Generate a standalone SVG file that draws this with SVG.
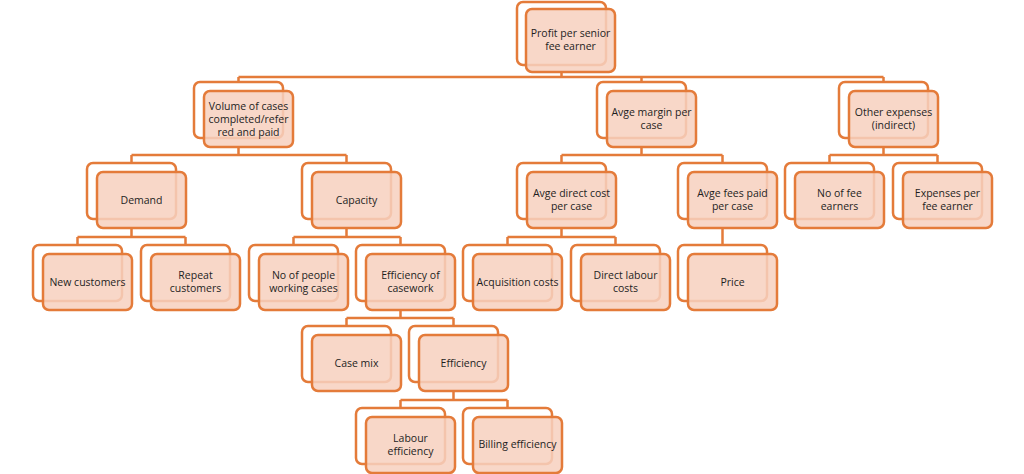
<svg xmlns="http://www.w3.org/2000/svg" width="1024" height="474" viewBox="0 0 1024 474">
<style>
.bk{fill:#ffffff;stroke:#E47B3A;stroke-width:2.5}
.fr{fill:#F7D0BF;fill-opacity:0.86;stroke:#E47B3A;stroke-width:2.5}
.cn{fill:none;stroke:#E47B3A;stroke-width:2.5}
text{font-family:"Open Sans","Liberation Sans",sans-serif;font-size:10.5px;fill:#1e1e1e;text-anchor:middle}
</style>
<rect width="1024" height="474" fill="#ffffff"/>
<g id="connectors">
<path class="cn" d="M561.5,72 V77 M238.5,77 H883.5 M238.5,77 V82 M641.5,77 V82 M883.5,77 V82"/>
<path class="cn" d="M238.5,147 V155 M131.5,155 H346.5 M131.5,155 V163 M346.5,155 V163"/>
<path class="cn" d="M641.5,147 V155 M561.5,155 H722.5 M561.5,155 V163 M722.5,155 V163"/>
<path class="cn" d="M883.5,147 V155 M829.5,155 H937.5 M829.5,155 V163 M937.5,155 V163"/>
<path class="cn" d="M131.5,228 V237 M77.5,237 H185.5 M77.5,237 V245 M185.5,237 V245"/>
<path class="cn" d="M346.5,228 V237 M293.5,237 H400.5 M293.5,237 V245 M400.5,237 V245"/>
<path class="cn" d="M561.5,228 V237 M507.5,237 H615.5 M507.5,237 V245 M615.5,237 V245"/>
<path class="cn" d="M722.5,228 V245"/>
<path class="cn" d="M400.5,310 V318 M346.5,318 H453.5 M346.5,318 V326 M453.5,318 V326"/>
<path class="cn" d="M453.5,391 V400 M400.5,400 H507.5 M400.5,400 V408 M507.5,400 V408"/>
</g>
<g id="n0"><rect class="bk" x="517" y="2" width="89" height="63" rx="6"/><rect class="fr" x="526" y="9" width="89" height="63" rx="6"/><text x="570.5" y="37">Profit per senior</text><text x="570.5" y="50">fee earner</text></g>
<g id="n1"><rect class="bk" x="194" y="82" width="89" height="56" rx="6"/><rect class="fr" x="204" y="91" width="89" height="56" rx="6"/><text x="248.5" y="110">Volume of cases</text><text x="248.5" y="123">completed/refer</text><text x="248.5" y="136">red and paid</text></g>
<g id="n2"><rect class="bk" x="597" y="82" width="89" height="56" rx="6"/><rect class="fr" x="607" y="91" width="89" height="56" rx="6"/><text x="651.5" y="116">Avge margin per</text><text x="651.5" y="129">case</text></g>
<g id="n3"><rect class="bk" x="839" y="82" width="89" height="56" rx="6"/><rect class="fr" x="849" y="91" width="89" height="56" rx="6"/><text x="893.5" y="116">Other expenses</text><text x="893.5" y="129">(indirect)</text></g>
<g id="n4"><rect class="bk" x="87" y="163" width="89" height="56" rx="6"/><rect class="fr" x="97" y="172" width="89" height="56" rx="6"/><text x="141.5" y="204">Demand</text></g>
<g id="n5"><rect class="bk" x="302" y="163" width="89" height="56" rx="6"/><rect class="fr" x="312" y="172" width="89" height="56" rx="6"/><text x="356.5" y="204">Capacity</text></g>
<g id="n6"><rect class="bk" x="517" y="163" width="89" height="56" rx="6"/><rect class="fr" x="527" y="172" width="89" height="56" rx="6"/><text x="571.5" y="197">Avge direct cost</text><text x="571.5" y="210">per case</text></g>
<g id="n7"><rect class="bk" x="678" y="163" width="89" height="56" rx="6"/><rect class="fr" x="688" y="172" width="89" height="56" rx="6"/><text x="732.5" y="197">Avge fees paid</text><text x="732.5" y="210">per case</text></g>
<g id="n8"><rect class="bk" x="785" y="163" width="89" height="56" rx="6"/><rect class="fr" x="795" y="172" width="89" height="56" rx="6"/><text x="839.5" y="197">No of fee</text><text x="839.5" y="210">earners</text></g>
<g id="n9"><rect class="bk" x="893" y="163" width="89" height="56" rx="6"/><rect class="fr" x="903" y="172" width="89" height="56" rx="6"/><text x="947.5" y="197">Expenses per</text><text x="947.5" y="210">fee earner</text></g>
<g id="n10"><rect class="bk" x="33" y="245" width="89" height="56" rx="6"/><rect class="fr" x="43" y="254" width="89" height="56" rx="6"/><text x="87.5" y="286">New customers</text></g>
<g id="n11"><rect class="bk" x="141" y="245" width="89" height="56" rx="6"/><rect class="fr" x="151" y="254" width="89" height="56" rx="6"/><text x="195.5" y="279">Repeat</text><text x="195.5" y="292">customers</text></g>
<g id="n12"><rect class="bk" x="249" y="245" width="89" height="56" rx="6"/><rect class="fr" x="259" y="254" width="89" height="56" rx="6"/><text x="303.5" y="279">No of people</text><text x="303.5" y="292">working cases</text></g>
<g id="n13"><rect class="bk" x="356" y="245" width="89" height="56" rx="6"/><rect class="fr" x="366" y="254" width="89" height="56" rx="6"/><text x="410.5" y="279">Efficiency of</text><text x="410.5" y="292">casework</text></g>
<g id="n14"><rect class="bk" x="463" y="245" width="89" height="56" rx="6"/><rect class="fr" x="473" y="254" width="89" height="56" rx="6"/><text x="517.5" y="286">Acquisition costs</text></g>
<g id="n15"><rect class="bk" x="571" y="245" width="89" height="56" rx="6"/><rect class="fr" x="581" y="254" width="89" height="56" rx="6"/><text x="625.5" y="279">Direct labour</text><text x="625.5" y="292">costs</text></g>
<g id="n16"><rect class="bk" x="678" y="245" width="89" height="56" rx="6"/><rect class="fr" x="688" y="254" width="89" height="56" rx="6"/><text x="732.5" y="286">Price</text></g>
<g id="n17"><rect class="bk" x="302" y="326" width="89" height="56" rx="6"/><rect class="fr" x="312" y="335" width="89" height="56" rx="6"/><text x="356.5" y="367">Case mix</text></g>
<g id="n18"><rect class="bk" x="409" y="326" width="89" height="56" rx="6"/><rect class="fr" x="419" y="335" width="89" height="56" rx="6"/><text x="463.5" y="367">Efficiency</text></g>
<g id="n19"><rect class="bk" x="356" y="408" width="89" height="56" rx="6"/><rect class="fr" x="366" y="417" width="89" height="56" rx="6"/><text x="410.5" y="442">Labour</text><text x="410.5" y="455">efficiency</text></g>
<g id="n20"><rect class="bk" x="463" y="408" width="89" height="56" rx="6"/><rect class="fr" x="473" y="417" width="89" height="56" rx="6"/><text x="517.5" y="448">Billing efficiency</text></g>
</svg>
